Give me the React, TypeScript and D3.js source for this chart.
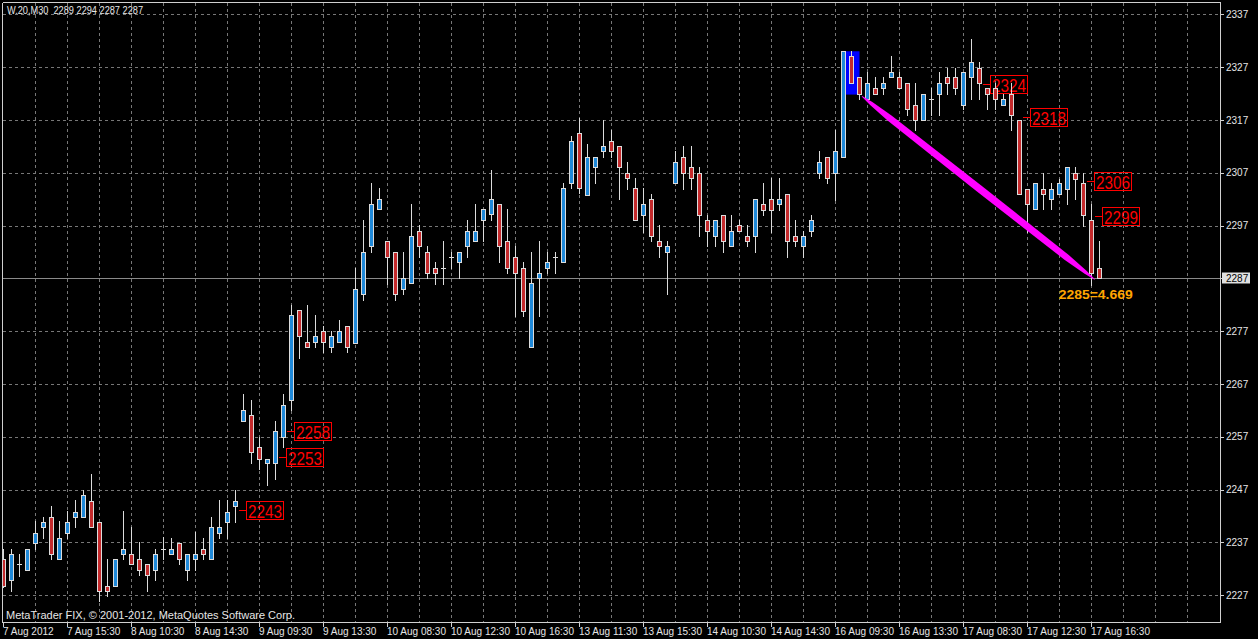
import React from "react";
import * as d3 from "d3";

const W = 1258;
const H = 639;

// OHLC per M30 bar (index 0 = leftmost)
const opens = [
  2233.9, 2229.9, 2232.95, 2231.8, 2236.9, 2239.9, 2241.9, 2233.9, 2238.8, 2241.9,
  2241.9, 2244.9, 2240.9, 2228.8, 2228.8, 2234.85, 2234.85, 2233.9, 2232.9, 2231.8,
  2235.8, 2234.85, 2236.9, 2231.8, 2233.9, 2235.8, 2233.9, 2238.8, 2240.9, 2243.9,
  2259.94, 2261.1, 2255, 2252, 2252, 2256.9, 2263.9, 2281, 2274.9, 2274.9,
  2277, 2274, 2274.9, 2278, 2274.85, 2283.96, 2293.1, 2300.2, 2294.1, 2292,
  2285, 2286.05, 2296, 2292, 2289, 2289, 2291, 2290.04, 2293.1, 2294.1,
  2298.14, 2299.1, 2301.1, 2294.1, 2291.05, 2289, 2274, 2287, 2289, 2291,
  2290.05, 2305.1, 2314.5, 2302.8, 2308.1, 2311.1, 2313, 2312.1, 2307, 2304.1,
  2299, 2302, 2294, 2292, 2305, 2310, 2308.1, 2307, 2298, 2295.04,
  2299, 2293.1, 2297.06, 2295.04, 2295.04, 2301.05, 2302, 2301.05, 2303, 2295.04,
  2293.1, 2296, 2307, 2310, 2306.9, 2309.9, 2329.1, 2325.04, 2320.9, 2323,
  2323, 2325.04, 2325.04, 2323.9, 2319.9, 2316.9, 2320.9, 2322, 2325.04, 2325.04,
  2319.9, 2325.04, 2326.9, 2323, 2323, 2319.9, 2322, 2316.9, 2304, 2300.06,
  2304, 2302, 2302.9, 2304, 2306.9, 2305, 2298, 2288.9,
];
const highs = [
  2235.8, 2235.8, 2234.85, 2235.8, 2241.05, 2241.9, 2244, 2241, 2242.9, 2245,
  2247, 2249.9, 2240.9, 2233.9, 2233.9, 2242.9, 2240, 2237, 2232.9, 2235.8,
  2238, 2237.9, 2236.9, 2234.85, 2238.9, 2237.9, 2241.9, 2245, 2245, 2247,
  2265.1, 2264, 2257, 2252.9, 2260, 2265.1, 2282, 2281, 2282, 2280,
  2278, 2277, 2279.1, 2278, 2289, 2298.14, 2305.1, 2304.15, 2294.1, 2292,
  2292, 2301.1, 2297.1, 2293.1, 2290.05, 2294.1, 2292, 2292, 2298.14, 2301.1,
  2300.2, 2307.6, 2301.1, 2300.2, 2293.1, 2290.05, 2292, 2294.1, 2292, 2292,
  2305.1, 2314, 2317.3, 2312.5, 2310, 2317, 2315.1, 2312.1, 2309, 2306,
  2304.1, 2303, 2297.06, 2294, 2311.1, 2312.1, 2312.1, 2308.1, 2299, 2298,
  2299, 2299, 2298, 2297.06, 2302, 2305, 2306, 2306, 2303, 2298,
  2296, 2299, 2311.1, 2310, 2315.1, 2330.03, 2330.03, 2325.04, 2326, 2325.04,
  2325.04, 2329.1, 2326, 2323.9, 2323.9, 2322, 2323, 2326, 2326.9, 2326.9,
  2326, 2332.3, 2327.9, 2323, 2323.9, 2322, 2323.9, 2316.9, 2304, 2305,
  2306.9, 2305, 2305.9, 2308, 2308, 2306.9, 2301, 2294,
];
const lows = [
  2228.5, 2227.8, 2230.7, 2231.8, 2235.7, 2237.8, 2233.8, 2233.9, 2237.8, 2239.9,
  2241.9, 2239.9, 2226, 2226.9, 2228.8, 2233.8, 2232.9, 2230.9, 2227.8, 2229.9,
  2233.8, 2234.85, 2232.9, 2229.9, 2231.8, 2233.9, 2233.9, 2237.8, 2237.8, 2240.9,
  2259.94, 2252, 2250.9, 2247.9, 2248.95, 2255, 2262, 2272, 2274, 2274,
  2273, 2273, 2274.9, 2273, 2274.85, 2282.95, 2292, 2300.2, 2286, 2282.95,
  2283.96, 2286.05, 2291.05, 2287, 2286, 2286, 2289, 2287, 2291.05, 2294.1,
  2294.1, 2298.14, 2290.04, 2288, 2279.9, 2279.9, 2274, 2279.9, 2288, 2288,
  2290.05, 2304.1, 2303.1, 2302.8, 2305, 2310, 2310, 2302, 2304, 2298,
  2295.8, 2294, 2291, 2284, 2305, 2304, 2304, 2295.04, 2293.1, 2293.1,
  2292, 2293.1, 2296, 2293.1, 2292, 2299, 2295.8, 2300.04, 2291, 2293.1,
  2291, 2295.04, 2306, 2305, 2301.8, 2309.9, 2323.9, 2320.9, 2320.9, 2322,
  2322, 2325.04, 2323, 2318, 2315, 2316.9, 2318, 2318, 2322, 2322,
  2319, 2320.9, 2320.9, 2319, 2319, 2319.9, 2315, 2302.9, 2295.8, 2300.06,
  2300.06, 2300.06, 2302.9, 2301, 2302, 2297, 2285.7, 2287,
];
const closes = [
  2228.7, 2234.85, 2232.95, 2235.8, 2238.8, 2240.9, 2234.85, 2237.9, 2240.9, 2242.8,
  2245.9, 2239.9, 2227.9, 2227.9, 2233.9, 2235.8, 2232.9, 2231.8, 2230.9, 2234.85,
  2235.8, 2235.8, 2233.9, 2234.85, 2234.85, 2234.85, 2239.9, 2239.9, 2242.8, 2244.9,
  2262.03, 2254.1, 2252.9, 2252.9, 2258.05, 2263, 2280.03, 2276.05, 2274, 2276.05,
  2274.9, 2276.05, 2277, 2274, 2285, 2292, 2301.1, 2302.1, 2291.05, 2283.96,
  2287.1, 2295.04, 2293.1, 2288, 2288, 2289, 2291, 2292, 2296, 2296,
  2300.2, 2302.1, 2293.1, 2289, 2288, 2280.9, 2286.05, 2288, 2290.05, 2291,
  2304.15, 2313, 2304.1, 2310, 2310, 2312.1, 2311.1, 2308.1, 2306, 2298,
  2301.05, 2295.04, 2293.1, 2293.1, 2309, 2307, 2306, 2299, 2296, 2298,
  2294, 2296, 2296, 2294, 2302, 2300.04, 2300.04, 2302, 2294, 2294,
  2295.04, 2298, 2309, 2306, 2311.1, 2330.03, 2323.9, 2322, 2323.9, 2322,
  2323.9, 2326, 2323, 2319, 2316.9, 2322, 2320.9, 2323.9, 2323.9, 2323,
  2326, 2327.9, 2323.9, 2322, 2320.9, 2320.9, 2318, 2302.9, 2301, 2305,
  2302.9, 2304, 2305, 2308, 2305.9, 2299, 2288, 2287,
];

const priceTicks = d3.range(2227, 2338, 10);
const timeLabels = [
  "7 Aug 2012", "7 Aug 15:30", "8 Aug 10:30", "8 Aug 14:30", "9 Aug 09:30",
  "9 Aug 13:30", "10 Aug 08:30", "10 Aug 12:30", "10 Aug 16:30", "13 Aug 11:30",
  "13 Aug 15:30", "14 Aug 10:30", "14 Aug 14:30", "16 Aug 09:30", "16 Aug 13:30",
  "17 Aug 08:30", "17 Aug 12:30", "17 Aug 16:30",
];
const labelBars = [29, 34, 35, 122, 127, 135, 136];
const labelLevels = [2243.1, 2253.1, 2258.2, 2323.8, 2317.5, 2305.5, 2298.9];

const currentPrice = 2287;
const headerText = "W.20,M30  2289 2294 2287 2287";
const copyrightText = "MetaTrader FIX, \u00A9 2001-2012, MetaQuotes Software Corp.";
const trendBars = [107.3, 136.4];
const trendPrices = [2321.5, 2286.8];
const trendText = "2285=4.669";
const boxBars = [105.3, 107];
const boxPrices = [2321.8, 2330.0];

const PLOT_L = 2.5;
const PLOT_R = 1220.5;
const PLOT_T = 2.5;
const PLOT_B = 622.5;

const BULL = "#1e88d8";
const BEAR = "#c42a2c";
const EDGE = "#dcdcdc";
const GRID = "#777777";
const TEXT = "#e6e6e6";
const FONT = "'Liberation Sans', Arial, sans-serif";

export default function App() {
  const x = d3.scaleLinear().domain([0, 1]).range([3.5, 11.5]);
  const y = d3.scaleLinear().domain([2227, 2337]).range([595.3, 14.3]);
  const py = (p: number) => Math.round(y(p)) + 0.5;

  const vGrid: number[] = [];
  for (let b = 4; x(b) < PLOT_R - 1; b += 4) vGrid.push(x(b));

  // trend band polygon (tapered thick line)
  const x0 = x(trendBars[0]), y0 = y(trendPrices[0]);
  const x1 = x(trendBars[1]), y1 = y(trendPrices[1]);
  const dx = x1 - x0, dy = y1 - y0;
  const len = Math.hypot(dx, dy);
  const nx = -dy / len, ny = dx / len;
  const steps = [0, 0.04, 0.12, 0.5, 0.88, 0.96, 1];
  const widths = [0.3, 1.8, 3.2, 3.7, 3.2, 1.8, 0.3];
  const up = steps.map((t, k) => [x0 + dx * t + nx * widths[k], y0 + dy * t + ny * widths[k]]);
  const dn = steps.map((t, k) => [x0 + dx * t - nx * widths[k], y0 + dy * t - ny * widths[k]]).reverse();
  const trendPoly = up.concat(dn).map((p) => p.join(",")).join(" ");

  return (
    <div style={{ position: "fixed", left: 0, top: 0, width: W, height: H, background: "#000" }}>
      <svg width={W} height={H} style={{ display: "block", background: "#000" }}>
        <defs>
          <clipPath id="plot">
            <rect x={PLOT_L} y={PLOT_T} width={PLOT_R - PLOT_L} height={PLOT_B - PLOT_T} />
          </clipPath>
        </defs>
        <rect x={0} y={0} width={W} height={H} fill="#000" />

        {/* grid */}
        <g stroke={GRID} strokeWidth={1} strokeDasharray="3,3" shapeRendering="crispEdges">
          {priceTicks.map((p) => (
            <line key={"h" + p} x1={PLOT_L} x2={PLOT_R} y1={py(p)} y2={py(p)} />
          ))}
          {vGrid.map((gx) => (
            <line key={"v" + gx} x1={gx} x2={gx} y1={PLOT_T} y2={PLOT_B} />
          ))}
        </g>

        <g clipPath="url(#plot)">
          {/* highlight rectangle */}
          <rect
            x={x(boxBars[0])}
            y={y(boxPrices[1])}
            width={x(boxBars[1]) - x(boxBars[0])}
            height={y(boxPrices[0]) - y(boxPrices[1])}
            fill="#0000ff"
          />
          {/* current price line */}
          <line x1={PLOT_L} x2={PLOT_R} y1={py(currentPrice)} y2={py(currentPrice)} stroke="#8a8a8a" strokeWidth={1} shapeRendering="crispEdges" />

          {/* price labels (behind candles, transparent boxes) */}
          {labelBars.map((b, k) => {
            const lv = labelLevels[k];
            const ly = py(lv);
            const bx = x(b) + 10.5;
            return (
              <g key={"l" + k}>
                <line x1={x(b) + 3} x2={bx} y1={ly} y2={ly} stroke="#ff0000" strokeWidth={1} shapeRendering="crispEdges" />
                <rect x={bx} y={ly - 9} width={37} height={18} fill="none" stroke="#ff0000" strokeWidth={1} shapeRendering="crispEdges" />
                <text
                  x={bx + 2}
                  y={ly + 7}
                  fill="#ff0000"
                  fontFamily={FONT}
                  fontSize={19}
                  textLength={34}
                  lengthAdjust="spacingAndGlyphs"
                >
                  {String(Math.round(lv))}
                </text>
              </g>
            );
          })}

          {/* candles */}
          <g shapeRendering="crispEdges">
            {opens.map((o, i) => {
              const c = closes[i];
              const cx = x(i);
              const hi = highs[i];
              const lo = lows[i];
              const top = Math.round(y(Math.max(o, c)));
              const bot = Math.round(y(Math.min(o, c)));
              const doji = bot - top < 1;
              return (
                <g key={i}>
                  <line x1={cx} x2={cx} y1={Math.round(y(hi))} y2={Math.round(y(lo)) + 1} stroke={EDGE} strokeWidth={1} />
                  {doji ? (
                    <line x1={cx - 2.5} x2={cx + 2.5} y1={top + 0.5} y2={top + 0.5} stroke={EDGE} strokeWidth={1} />
                  ) : (
                    <rect
                      x={cx - 2}
                      y={top + 0.5}
                      width={4}
                      height={bot - top}
                      fill={c > o ? BULL : BEAR}
                      stroke={EDGE}
                      strokeWidth={1}
                    />
                  )}
                </g>
              );
            })}
          </g>

          {/* trend band */}
          <polygon points={trendPoly} fill="#ff00ff" />

          <text
            x={x1 + 1}
            y={y1 + 20}
            fill="#ffa500"
            fontFamily={FONT}
            fontWeight="bold"
            fontSize={13}
            textAnchor="middle"
            textLength={74}
            lengthAdjust="spacingAndGlyphs"
          >
            {trendText}
          </text>
        </g>

        {/* frame */}
        <g stroke="#d0d0d0" strokeWidth={1} fill="none" shapeRendering="crispEdges">
          <line x1={PLOT_L} x2={PLOT_R} y1={PLOT_T} y2={PLOT_T} />
          <line x1={PLOT_L} x2={PLOT_R} y1={PLOT_B} y2={PLOT_B} />
          <line x1={PLOT_L} x2={PLOT_L} y1={PLOT_T} y2={PLOT_B} />
          <line x1={PLOT_R} x2={PLOT_R} y1={PLOT_T} y2={PLOT_B} />
        </g>

        {/* right axis */}
        <g fontFamily={FONT} fontSize={10} fill={TEXT}>
          {priceTicks.map((p) => (
            <g key={"t" + p}>
              <line x1={PLOT_R} x2={PLOT_R + 3} y1={py(p)} y2={py(p)} stroke="#d0d0d0" shapeRendering="crispEdges" />
              <text x={1226} y={y(p) + 3.6}>{p}</text>
            </g>
          ))}
        </g>
        <rect x={1222} y={py(currentPrice) - 6} width={28} height={11} fill="#e0e0e0" />
        <text x={1226} y={y(currentPrice) + 3.6} fontFamily={FONT} fontSize={10} fill="#000">
          {currentPrice}
        </text>

        {/* bottom axis */}
        <g fontFamily={FONT} fontSize={10} fill={TEXT}>
          {timeLabels.map((t, k) => {
            const tx = x(k * 8) - 0.5;
            return (
              <g key={"x" + k}>
                <line x1={tx} x2={tx} y1={PLOT_B} y2={PLOT_B + 4} stroke="#d0d0d0" shapeRendering="crispEdges" />
                <text x={tx} y={635}>{t}</text>
              </g>
            );
          })}
        </g>

        {/* header and copyright */}
        <text x={7} y={14} fontFamily={FONT} fontSize={10} fill={TEXT} textLength={136} lengthAdjust="spacingAndGlyphs" style={{ whiteSpace: "pre" }}>
          {headerText}
        </text>
        <text x={6} y={619} fontFamily={FONT} fontSize={10.5} fill={TEXT} textLength={289} lengthAdjust="spacingAndGlyphs">
          {copyrightText}
        </text>
      </svg>
    </div>
  );
}
